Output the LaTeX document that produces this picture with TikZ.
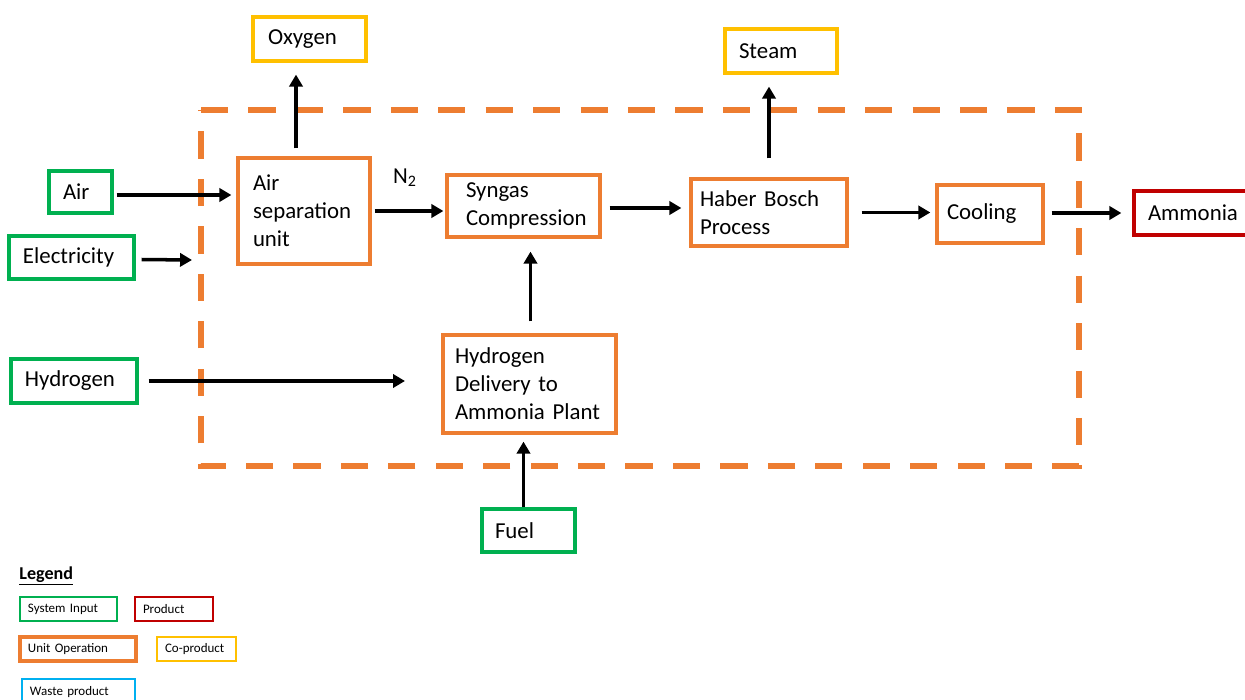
\documentclass[tikz,border=0pt]{standalone}
\usepackage{fontspec}
\setmainfont{Carlito}
\usetikzlibrary{calc,arrows.meta}
\definecolor{cgreen}{HTML}{00B050}
\definecolor{cred}{HTML}{C00000}
\definecolor{corange}{HTML}{ED7D31}
\definecolor{cyellow}{HTML}{FFC000}
\definecolor{cblue}{HTML}{00B0F0}
\newcommand\bx[8]{%
  \node[#2, minimum width={(#5-#3)*0.02cm}, minimum height={(#6-#4)*0.02cm},
        inner xsep={#7*0.02cm}, inner ysep=0pt, text width={(#5-#3-2*#7)*0.02cm}]
        (#1) at ({(#3+#5)/2},{(#4+#6)/2}) {#8};}
\begin{document}
\begin{tikzpicture}[x=0.02cm,y=-0.02cm,
  base/.style={draw, fill=white, align=left, font=\fontsize{13}{15.9}\selectfont},
  inbox/.style={base, draw=cgreen, line width=1.8pt},
  unitbox/.style={base, draw=corange, line width=1.8pt},
  cobox/.style={base, draw=cyellow, line width=1.8pt},
  prodbox/.style={base, draw=cred, line width=1.8pt},
  leg/.style={draw, fill=white, align=left, font=\fontsize{7.4}{9}\selectfont, line width=1.1pt},
  arr/.style={line width=2pt, -{Triangle[length=6.8pt,width=7.5pt]}},
  boundary/.style={draw=corange, line width=3.4pt, dash pattern=on 15.5pt off 11.5pt}]
\clip (0,0) rectangle (1245,700);
\fill[white] (0,0) rectangle (1245,700);

% system boundary
\draw[boundary] (201,110) -- (1079,110) -- (1079,466) -- (201,466) -- cycle;

% unit operations
\bx{asu}{unitbox}{238}{158}{370}{264}{15}{Air\\separation\\unit}
\bx{syn}{unitbox}{447}{175}{600}{237}{19}{Syngas\\Compression}
\bx{hab}{unitbox}{691}{179}{847}{246}{9}{Haber Bosch\\Process}
\bx{cool}{unitbox}{937}{185}{1043}{243}{10}{Cooling}
\bx{hd}{unitbox}{443}{335}{616}{433}{12}{Hydrogen\\Delivery to\\Ammonia Plant}

% inputs
\bx{air}{inbox}{49}{171}{112}{213}{14}{Air}
\bx{elec}{inbox}{9}{236}{134}{279}{14}{Electricity}
\bx{hyd}{inbox}{11}{359}{137}{403}{14}{Hydrogen}
\bx{fuel}{inbox}{482}{509}{575}{552}{13}{Fuel}

% co-products and product
\bx{oxy}{cobox}{253}{17}{366}{61}{15}{Oxygen}
\bx{steam}{cobox}{725}{29}{837}{73}{14}{Steam}
\bx{amm}{prodbox}{1134}{191}{1262}{235}{14}{Ammonia}

% label
\node[font=\fontsize{13}{15.9}\selectfont] (n2) at (405,178) {N\textsubscript{2}};

% free ends
\coordinate (elecend) at (192,260);
\coordinate (hydend) at (405,381);

% connectors
\draw[arr] ($(air.east)+(3,3)$) -- ($(asu.west |- air.east)+(-5,3)$);
\draw[arr] ($(elec.east)+(6,2)$) -- (elecend);
\draw[arr] ($(hyd.east |- hydend)+(10,0)$) -- (hydend);
\draw[arr] ($(asu.north)+(-8,-8)$) -- ($(oxy.south -| asu.north)+(-8,12)$);
\draw[arr] ($(asu.east)+(3,0)$) -- ($(syn.west |- asu.east)+(-2,0)$);
\draw[arr] ($(syn.east)+(8,2)$) -- ($(hab.west |- syn.east)+(-8,2)$);
\draw[arr] ($(hab.north)+(0,-19)$) -- ($(steam.south -| hab.north)+(0,12)$);
\draw[arr] ($(hab.east)+(13,0)$) -- ($(cool.west |- hab.east)+(-5,0)$);
\draw[arr] ($(cool.east)+(7,-1)$) -- ($(amm.west |- cool.east)+(-11,-1)$);
\draw[arr] ($(hd.north)+(1,-12)$) -- ($(syn.south -| hd.north)+(1,13)$);
\draw[arr] ($(fuel.north)+(-5,0)$) -- ($(hd.south -| fuel.north)+(-5,7)$);

% legend
\node[anchor=west, font=\fontsize{10.3}{12}\selectfont\bfseries, inner sep=0pt] (legt) at (19,576) {\underline{Legend}};
\bx{l1}{leg, draw=cgreen}{20}{597}{117}{621}{8}{System Input}
\bx{l2}{leg, draw=cred}{135}{597}{213}{621}{8}{Product}
\bx{l3}{leg, draw=corange, line width=1.9pt}{20}{637}{136}{661}{8}{Unit Operation}
\bx{l4}{leg, draw=cyellow}{157}{637}{236}{661}{8}{Co-product}
\bx{l5}{leg, draw=cblue}{22}{679}{135}{705}{8}{Waste product}
\end{tikzpicture}
\end{document}
